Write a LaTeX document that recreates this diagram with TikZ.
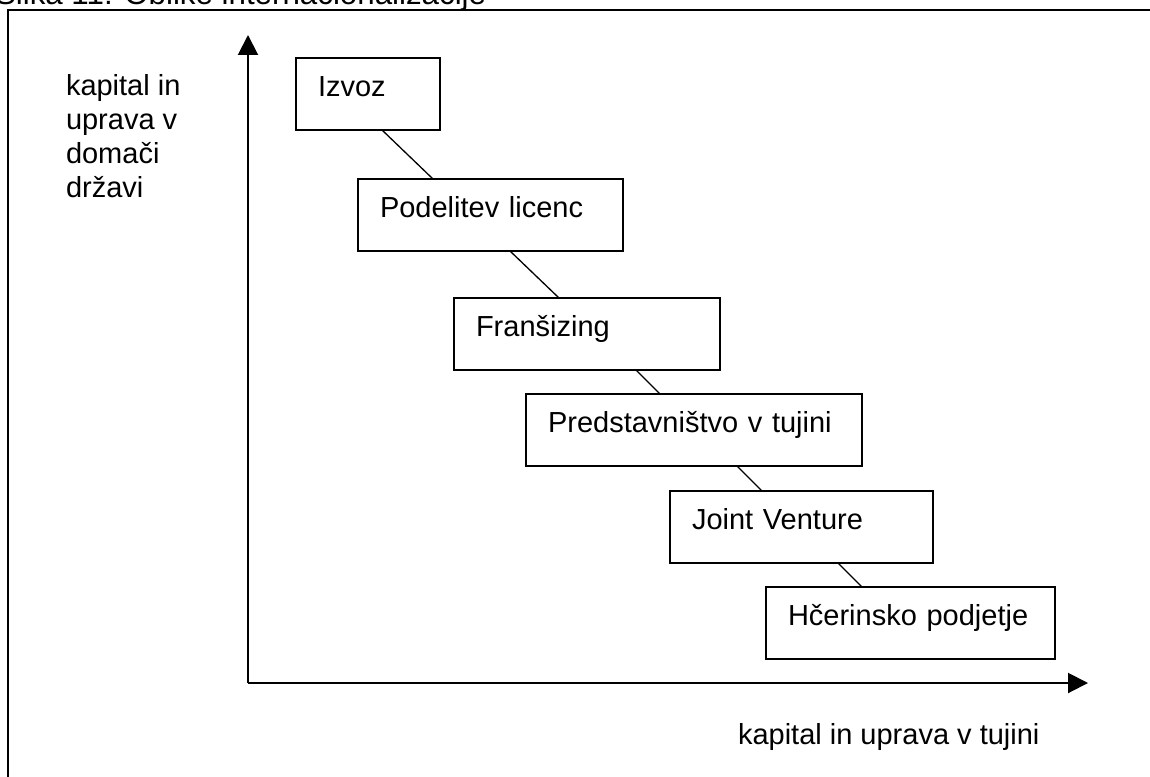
\documentclass[tikz,border=0pt]{standalone}
\usepackage{fontspec}
\setmainfont{Liberation Sans}
\usetikzlibrary{arrows.meta,calc}

\tikzset{
  lbl/.style={font=\fontsize{29}{34}\selectfont, inner sep=0pt, outer sep=0pt},
  stage/.style={lbl, draw, line width=2pt, fill=white, align=left,
    inner xsep=22pt, inner ysep=0pt, text height=38pt, text depth=34pt},
  link/.style={line width=1.3pt},
  axis/.style={line width=2pt, -{Triangle[length=20pt,width=20pt]}}
}

\begin{document}
\begin{tikzpicture}[x=1pt,y=-1pt]
  \useasboundingbox (0,0) rectangle (1150,776);
  \clip (0,0) rectangle (1150,776);

  % caption, cut by the page edge
  \node[lbl, font=\fontsize{31.3}{36}\selectfont, anchor=base west] (caption) at (-5,5)
    {Slika 11: Oblike internacionalizacije};

  % frame
  \draw[line width=2.2pt] (8,10) rectangle (1170,800);

  % axes
  \coordinate (origin) at (248,683);
  \coordinate (ytip) at (248,35);
  \coordinate (xtip) at (1088,683);
  \draw[axis] (origin) -- (ytip);
  \draw[axis] (origin) -- (xtip);

  % axis labels
  \node[lbl, align=left, anchor=north west] (ylabel) at (66,74)
    {kapital in\\uprava v\\domači\\državi};
  \node[lbl, anchor=base west] (xlabel) at (738,744) {kapital in uprava v tujini};

  % stages
  \node[stage, text width=100pt, anchor=north west] (izvoz) at (296,58) {Izvoz};
  \node[stage, text width=221pt, anchor=north west] (pod) at (358,179) {Podelitev licenc};
  \node[stage, text width=222pt, anchor=north west] (fran) at (454,298) {Franšizing};
  \node[stage, text width=292pt, anchor=north west] (pred) at (526,394) {Predstavništvo v tujini};
  \node[stage, text width=219pt, anchor=north west] (joint) at (670,491) {Joint Venture};
  \node[stage, text width=245pt, anchor=north west] (hcer) at (766,587) {Hčerinsko podjetje};

  % links between stages
  \draw[link] ($(izvoz.south west)+(86,0)$) -- ($(pod.north west)+(75,0)$);
  \draw[link] ($(pod.south west)+(152,0)$) -- ($(fran.north west)+(105,0)$);
  \draw[link] ($(fran.south west)+(182,0)$) -- ($(pred.north west)+(134,0)$);
  \draw[link] ($(pred.south west)+(211,0)$) -- ($(joint.north west)+(92,0)$);
  \draw[link] ($(joint.south west)+(168,0)$) -- ($(hcer.north west)+(96,0)$);
\end{tikzpicture}
\end{document}
